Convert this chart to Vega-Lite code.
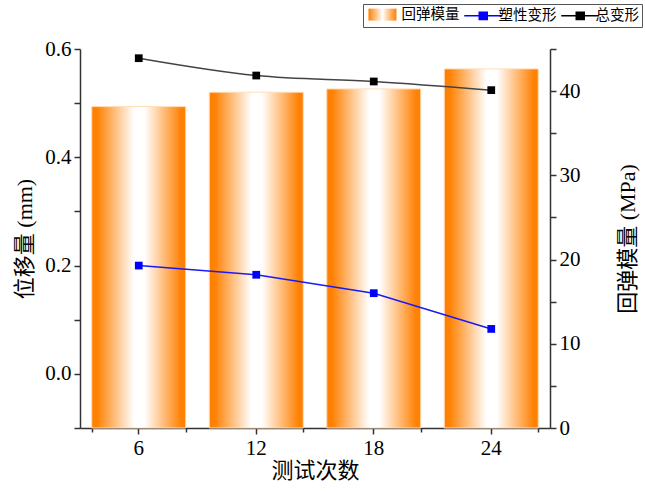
{
  "$schema": "https://vega.github.io/schema/vega-lite/v6.json",
  "width": 470,
  "height": 379,
  "autosize": "none",
  "padding": {"left": 80, "top": 49, "right": 95, "bottom": 64},
  "config": {
    "view": {"stroke": null},
    "font": "Liberation Serif, Noto Sans CJK SC",
    "axis": {
      "domainColor": "#333333",
      "tickColor": "#333333",
      "domainWidth": 1.5,
      "tickWidth": 1.5,
      "grid": false,
      "labelFont": "Liberation Serif, Noto Sans CJK SC",
      "titleFont": "Liberation Serif, Noto Sans CJK SC",
      "labelColor": "#000000",
      "titleColor": "#000000",
      "labelFontSize": 21,
      "titleFontSize": 22,
      "titleFontWeight": "normal"
    },
    "legend": {
      "orient": "none",
      "legendX": 283,
      "legendY": -45,
      "direction": "horizontal",
      "strokeColor": "#555555",
      "fillColor": "#FFFFFF",
      "padding": 3,
      "columnPadding": 1,
      "labelFont": "Liberation Serif, Noto Sans CJK SC",
      "labelFontSize": 14.5,
      "labelColor": "#000000",
      "labelOffset": 21,
      "symbolSize": 144,
      "symbolOpacity": 1,
      "symbolStrokeWidth": 1.5
    }
  },
  "data": {
    "values": [
      {"测试次数": "6", "回弹模量": 38.16, "塑性变形": 0.200, "总变形": 0.583},
      {"测试次数": "12", "回弹模量": 39.87, "塑性变形": 0.183, "总变形": 0.551},
      {"测试次数": "18", "回弹模量": 40.26, "塑性变形": 0.149, "总变形": 0.540},
      {"测试次数": "24", "回弹模量": 42.64, "塑性变形": 0.083, "总变形": 0.524}
    ]
  },
  "layer": [
    {
      "mark": {
        "type": "bar",
        "stroke": "#FFDDB8",
        "strokeWidth": 1,
        "color": {
          "gradient": "linear",
          "x1": 0, "y1": 0, "x2": 1, "y2": 0,
          "stops": [
            {"offset": 0, "color": "#FF8000"},
            {"offset": 0.06, "color": "#FF8205"},
            {"offset": 0.45, "color": "#FFFFFF"},
            {"offset": 0.56, "color": "#FFFFFF"},
            {"offset": 0.95, "color": "#FF8205"},
            {"offset": 1, "color": "#FF8000"}
          ]
        }
      },
      "encoding": {
        "x": {
          "field": "测试次数",
          "type": "ordinal",
          "sort": null,
          "scale": {"paddingInner": 0.2, "paddingOuter": 0.1},
          "axis": {
            "title": "测试次数",
            "labelAngle": 0,
            "tickSize": 6,
            "labelPadding": 3,
            "titlePadding": 2
          }
        },
        "y": {
          "field": "回弹模量",
          "type": "quantitative",
          "scale": {"domain": [0, 45], "nice": false},
          "axis": {
            "orient": "right",
            "title": "回弹模量 (MPa)",
            "titleAngle": 270,
            "titleBaseline": "top",
            "values": [0, 5, 10, 15, 20, 25, 30, 35, 40, 45],
            "labelExpr": "datum.value % 10 === 0 ? datum.label : ''",
            "tickSize": 6,
            "labelPadding": 3,
            "titlePadding": 37
          }
        }
      }
    },
    {
      "encoding": {
        "x": {
          "field": "测试次数",
          "type": "ordinal",
          "sort": null,
          "axis": {
            "orient": "bottom",
            "labels": false,
            "title": null,
            "domain": false,
            "tickBand": "extent",
            "tickSize": 4
          }
        }
      },
      "layer": [
        {
          "mark": {"type": "line", "color": "#1A1AF5", "strokeWidth": 1.5},
          "encoding": {
            "y": {
              "field": "塑性变形",
              "type": "quantitative",
              "title": "位移量 (mm)",
              "scale": {"domain": [-0.1, 0.6], "nice": false, "zero": false},
              "axis": {
                "orient": "left",
                "title": "位移量 (mm)",
                "values": [-0.1, 0, 0.1, 0.2, 0.3, 0.4, 0.5, 0.6],
                "labelExpr": "round(datum.value * 10) % 2 === 0 ? format(datum.value, '.1f') : ''",
                "tickSize": 6,
                "labelPadding": 3,
                "titlePadding": 8
              }
            }
          }
        },
        {
          "mark": {"type": "line", "color": "#444444", "strokeWidth": 1.5, "interpolate": "monotone"},
          "encoding": {
            "y": {"field": "总变形", "type": "quantitative", "title": "位移量 (mm)"}
          }
        },
        {
          "mark": {"type": "point", "shape": "square", "filled": true, "size": 60, "opacity": 1, "color": "#0000FF"},
          "encoding": {
            "y": {"field": "塑性变形", "type": "quantitative", "title": "位移量 (mm)"}
          }
        },
        {
          "mark": {"type": "point", "shape": "square", "filled": true, "size": 60, "opacity": 1, "color": "#000000"},
          "encoding": {
            "y": {"field": "总变形", "type": "quantitative", "title": "位移量 (mm)"}
          }
        },
        {
          "transform": [{"fold": ["塑性变形", "总变形"], "as": ["series", "value"]}],
          "mark": {"type": "point", "filled": true, "opacity": 0, "size": 144},
          "encoding": {
            "y": {"field": "value", "type": "quantitative", "title": "位移量 (mm)"},
            "color": {
              "field": "series",
              "type": "nominal",
              "title": null,
              "scale": {
                "domain": ["回弹模量", "塑性变形", "总变形"],
                "range": [
                  {"expr": "{gradient: 'linear', x1: 0, y1: 0, x2: 1, y2: 0, stops: [{offset: 0, color: '#FF8000'}, {offset: 0.5, color: '#FFFFFF'}, {offset: 1, color: '#FF8000'}]}"},
                  "#0000FF",
                  "#000000"
                ]
              }
            },
            "shape": {
              "field": "series",
              "type": "nominal",
              "title": null,
              "scale": {
                "domain": ["回弹模量", "塑性变形", "总变形"],
                "range": ["M-0.8,-1H3.87V1H-0.8Z", "M-1,0H5.33M1.5,-0.6H2.83V0.6H1.5Z", "M-1,0H5.33M1.5,-0.6H2.83V0.6H1.5Z"]
              }
            },
            "stroke": {
              "field": "series",
              "type": "nominal",
              "title": null,
              "scale": {
                "domain": ["回弹模量", "塑性变形", "总变形"],
                "range": ["transparent", "#0000FF", "#000000"]
              }
            }
          }
        }
      ]
    }
  ],
  "resolve": {"scale": {"y": "independent"}, "axis": {"x": "independent"}}
}
